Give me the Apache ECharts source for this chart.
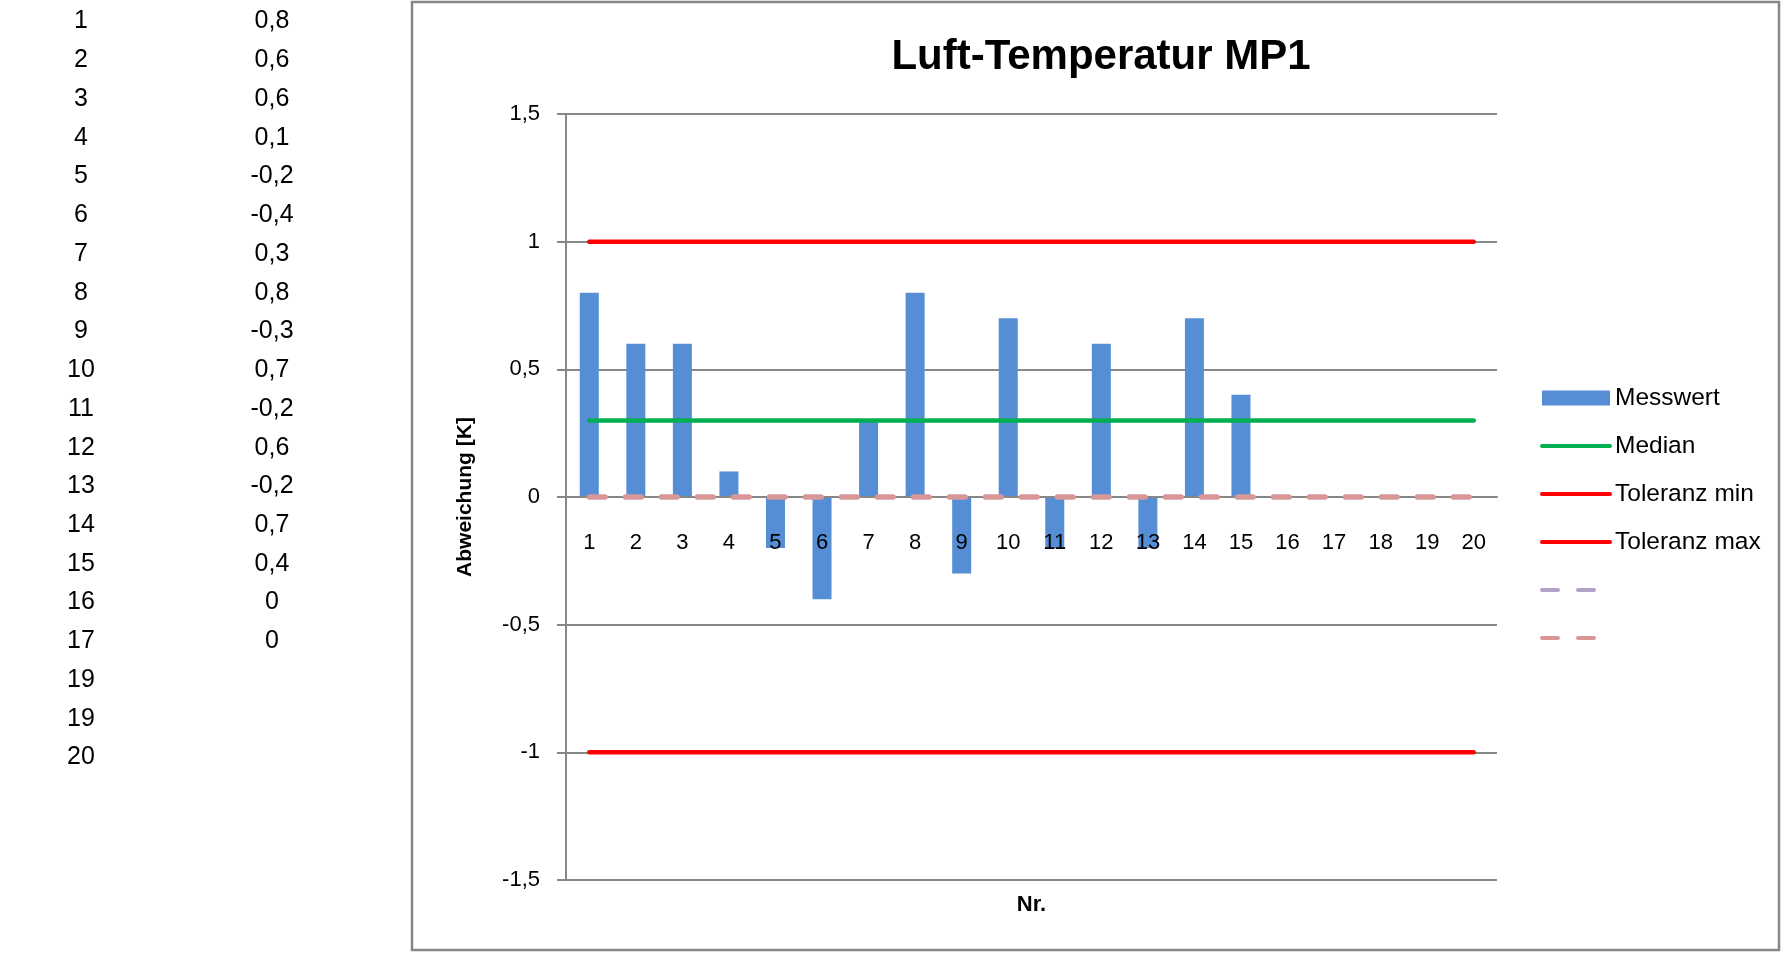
<!DOCTYPE html>
<html>
<head>
<meta charset="utf-8">
<script src="https://cdn.jsdelivr.net/npm/echarts@6/dist/echarts.min.js"></script>
<style>
  html, body { margin: 0; padding: 0; background: #fff; }
  #chart { width: 1781px; height: 953px; }
</style>
</head>
<body>
<div id="chart"></div>
<script>
// ---- data ----
var categories = ['1','2','3','4','5','6','7','8','9','10','11','12','13','14','15','16','17','18','19','20'];
var messwert = [0.8, 0.6, 0.6, 0.1, -0.2, -0.4, 0.3, 0.8, -0.3, 0.7, -0.2, 0.6, -0.2, 0.7, 0.4, 0, 0, null, null, null];
var median = [0.3, 0.3, 0.3, 0.3, 0.3, 0.3, 0.3, 0.3, 0.3, 0.3, 0.3, 0.3, 0.3, 0.3, 0.3, 0.3, 0.3, 0.3, 0.3, 0.3];
var toleranzMin = [-1, -1, -1, -1, -1, -1, -1, -1, -1, -1, -1, -1, -1, -1, -1, -1, -1, -1, -1, -1];
var toleranzMax = [1, 1, 1, 1, 1, 1, 1, 1, 1, 1, 1, 1, 1, 1, 1, 1, 1, 1, 1, 1];
var hilfslinie1 = [0, 0, 0, 0, 0, 0, 0, 0, 0, 0, 0, 0, 0, 0, 0, 0, 0, 0, 0, 0];
var hilfslinie2 = [0, 0, 0, 0, 0, 0, 0, 0, 0, 0, 0, 0, 0, 0, 0, 0, 0, 0, 0, 0];
var yTicks = { min: -1.5, max: 1.5, interval: 0.5 };
// side table (as in the sheet)
var tableNr = ['1','2','3','4','5','6','7','8','9','10','11','12','13','14','15','16','17','19','19','20'];
var tableVal = ['0,8','0,6','0,6','0,1','-0,2','-0,4','0,3','0,8','-0,3','0,7','-0,2','0,6','-0,2','0,7','0,4','0','0','','',''];

var FONT = 'Liberation Sans';
var GRAY = '#878787';

var GRID = { left: 566, right: 284, top: 114, bottom: 73 };
var plotH = 953 - GRID.top - GRID.bottom;
// offset that lifts the category axis from the bottom edge to the y=0 line
var zeroOffset = -plotH * (0 - yTicks.min) / (yTicks.max - yTicks.min);

var graphics = [
  { type: 'rect', shape: { x: 412, y: 2, width: 1367, height: 948 },
    style: { fill: 'none', stroke: GRAY, lineWidth: 2.5 }, silent: true },
  { type: 'text', x: 1101, y: 57,
    style: { text: 'Luft-Temperatur MP1', font: 'bold 42px "' + FONT + '"', fill: '#000',
             textAlign: 'center', textVerticalAlign: 'middle' } }
];
for (var i = 0; i < tableNr.length; i++) {
  graphics.push({ type: 'text', x: 81, y: 21.5 + i * 38.74,
    style: { text: tableNr[i], font: '25px "' + FONT + '"', fill: '#000', textAlign: 'center', textVerticalAlign: 'middle' } });
  if (tableVal[i] !== '') {
    graphics.push({ type: 'text', x: 272, y: 21.5 + i * 38.74,
      style: { text: tableVal[i], font: '25px "' + FONT + '"', fill: '#000', textAlign: 'center', textVerticalAlign: 'middle' } });
  }
}

function lineSeries(name, data, color, dashed) {
  return {
    name: name, type: 'line', data: data, symbol: 'none', silent: true, z: 4,
    lineStyle: { color: color, width: dashed ? 5 : 4.5, cap: 'round', type: dashed ? [16, 20] : 'solid' },
    itemStyle: { color: color }
  };
}
function legendLine(name) {
  return { name: name, itemStyle: { opacity: 0 } };
}

var chart = echarts.init(document.getElementById('chart'));
chart.setOption({
  animation: false,
  textStyle: { fontFamily: FONT, color: '#000' },
  grid: GRID,
  legend: {
    orient: 'vertical', left: 1540, top: 385.5, padding: 0,
    itemWidth: 68, itemHeight: 15, itemGap: 23.0,
    lineStyle: { width: 4 },
    textStyle: { fontSize: 24.5, lineHeight: 24, color: '#000', fontFamily: FONT },
    data: [
      { name: 'Messwert', icon: 'rect' },
      legendLine('Median'), legendLine('Toleranz min'), legendLine('Toleranz max'),
      legendLine(' '), legendLine('  ')
    ]
  },
  xAxis: [
    {
      type: 'category', data: categories, position: 'bottom', offset: zeroOffset, z: 3,
      axisLine: { onZero: false, lineStyle: { color: GRAY, width: 2 } },
      axisTick: { show: false },
      axisLabel: { fontSize: 22, color: '#000', margin: 35 },
      splitLine: { show: false }
    },
    {
      type: 'category', data: categories, position: 'bottom', offset: 0,
      axisLine: { show: false, onZero: false }, axisTick: { show: false },
      axisLabel: { show: false }, splitLine: { show: false },
      name: 'Nr.', nameLocation: 'middle', nameGap: 14,
      nameTextStyle: { fontSize: 22, fontWeight: 'bold', color: '#000' }
    }
  ],
  yAxis: {
    type: 'value', min: yTicks.min, max: yTicks.max, interval: yTicks.interval,
    axisLine: { show: true, onZero: false, lineStyle: { color: GRAY, width: 2 } },
    axisTick: { show: true, inside: false, length: 9, lineStyle: { color: GRAY, width: 2 } },
    axisLabel: { fontSize: 22, color: '#000', margin: 26,
      formatter: function (v) { return String(v).replace('.', ','); } },
    splitLine: { show: true, lineStyle: { color: GRAY, width: 2 } },
    name: 'Abweichung [K]', nameLocation: 'middle', nameRotate: 90, nameGap: 90,
    nameTextStyle: { fontSize: 21, fontWeight: 'bold', color: '#000' }
  },
  series: [
    { name: 'Messwert', type: 'bar', data: messwert, barWidth: 19, silent: true, z: 2,
      itemStyle: { color: '#558ED5' } },
    lineSeries('Median', median, '#00B050', false),
    lineSeries('Toleranz min', toleranzMin, '#FF0000', false),
    lineSeries('Toleranz max', toleranzMax, '#FF0000', false),
    lineSeries(' ', hilfslinie1, '#B3A2C7', true),
    lineSeries('  ', hilfslinie2, '#D99694', true)
  ],
  graphic: graphics
});
</script>
</body>
</html>
